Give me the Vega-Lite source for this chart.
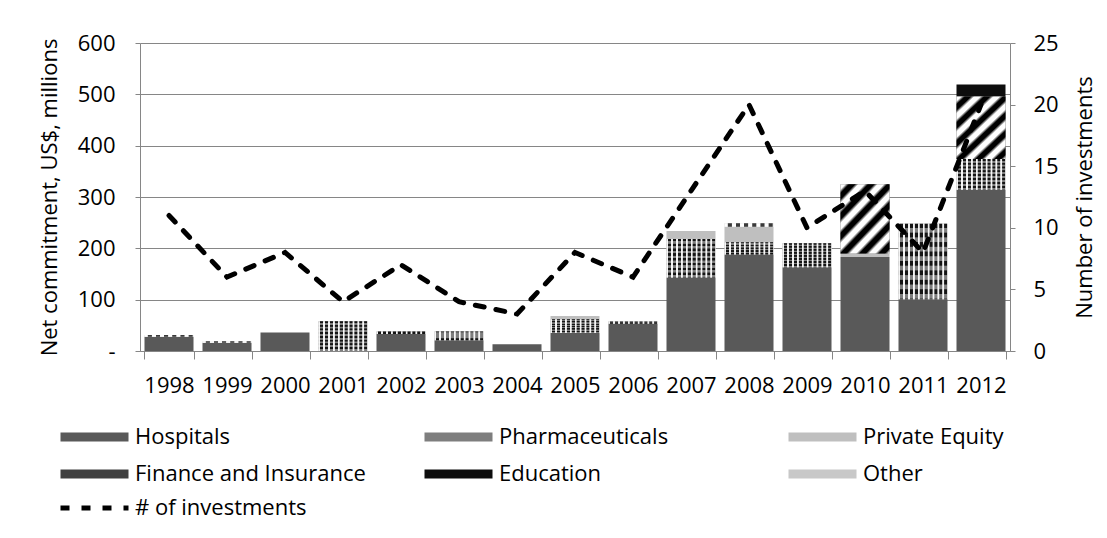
{
  "$schema": "https://vega.github.io/schema/vega-lite/v6.json",
  "width": 870,
  "height": 308,
  "autosize": {"type": "none"},
  "padding": {"left": 140, "top": 43, "right": 97, "bottom": 187},
  "background": "#ffffff",
  "config": {
    "view": {"stroke": null},
    "font": "Open Sans",
    "axis": {
      "domainColor": "#868686",
      "tickColor": "#868686",
      "gridColor": "#868686",
      "labelColor": "#000000",
      "titleColor": "#000000",
      "labelFont": "Open Sans",
      "titleFont": "Open Sans",
      "labelFontSize": 22,
      "titleFontSize": 22,
      "titleFontWeight": "normal"
    },
    "legend": {
      "padding": 0,
      "labelFont": "Open Sans",
      "labelFontSize": 22,
      "labelColor": "#000000",
      "labelLimit": 400
    }
  },
  "datasets": {
    "commitments": [
      {"year": "1998", "Hospitals": 28, "Pharmaceuticals": 0, "Private Equity": 0, "Finance and Insurance": 0, "Education": 0, "Other": 3, "investments": 11},
      {"year": "1999", "Hospitals": 16, "Pharmaceuticals": 0, "Private Equity": 0, "Finance and Insurance": 0, "Education": 0, "Other": 3, "investments": 6},
      {"year": "2000", "Hospitals": 36, "Pharmaceuticals": 0, "Private Equity": 0, "Finance and Insurance": 0, "Education": 0, "Other": 0, "investments": 8},
      {"year": "2001", "Hospitals": 0, "Pharmaceuticals": 58, "Private Equity": 0, "Finance and Insurance": 0, "Education": 0, "Other": 0, "investments": 4},
      {"year": "2002", "Hospitals": 33, "Pharmaceuticals": 5, "Private Equity": 0, "Finance and Insurance": 0, "Education": 0, "Other": 0, "investments": 7},
      {"year": "2003", "Hospitals": 21, "Pharmaceuticals": 17, "Private Equity": 0, "Finance and Insurance": 0, "Education": 0, "Other": 0, "investments": 4},
      {"year": "2004", "Hospitals": 13, "Pharmaceuticals": 0, "Private Equity": 0, "Finance and Insurance": 0, "Education": 0, "Other": 0, "investments": 3},
      {"year": "2005", "Hospitals": 35, "Pharmaceuticals": 27, "Private Equity": 6, "Finance and Insurance": 0, "Education": 0, "Other": 0, "investments": 8},
      {"year": "2006", "Hospitals": 53, "Pharmaceuticals": 5, "Private Equity": 0, "Finance and Insurance": 0, "Education": 0, "Other": 0, "investments": 6},
      {"year": "2007", "Hospitals": 143, "Pharmaceuticals": 75, "Private Equity": 16, "Finance and Insurance": 0, "Education": 0, "Other": 0, "investments": 13},
      {"year": "2008", "Hospitals": 188, "Pharmaceuticals": 24, "Private Equity": 30, "Finance and Insurance": 0, "Education": 0, "Other": 7, "investments": 20},
      {"year": "2009", "Hospitals": 163, "Pharmaceuticals": 47, "Private Equity": 0, "Finance and Insurance": 0, "Education": 0, "Other": 0, "investments": 10},
      {"year": "2010", "Hospitals": 183, "Pharmaceuticals": 0, "Private Equity": 7, "Finance and Insurance": 135, "Education": 0, "Other": 0, "investments": 13},
      {"year": "2011", "Hospitals": 101, "Pharmaceuticals": 147, "Private Equity": 0, "Finance and Insurance": 0, "Education": 0, "Other": 0, "investments": 8},
      {"year": "2012", "Hospitals": 314, "Pharmaceuticals": 60, "Private Equity": 0, "Finance and Insurance": 122, "Education": 23, "Other": 0, "investments": 20}
    ],
    "sectors": [
      {"sector": "Hospitals", "rank": 1},
      {"sector": "Pharmaceuticals", "rank": 2},
      {"sector": "Private Equity", "rank": 3},
      {"sector": "Finance and Insurance", "rank": 4},
      {"sector": "Education", "rank": 5},
      {"sector": "Other", "rank": 6}
    ]
  },
  "layer": [
    {
      "data": {"name": "commitments"},
      "transform": [
        {"fold": ["Hospitals", "Pharmaceuticals", "Private Equity", "Finance and Insurance", "Education", "Other"], "as": ["sector", "amount"]},
        {"lookup": "sector", "from": {"data": {"name": "sectors"}, "key": "sector", "fields": ["rank"]}},
        {"stack": "amount", "groupby": ["year"], "sort": [{"field": "rank", "order": "ascending"}], "as": ["v0", "v1"]},
        {"filter": "datum.amount > 0"}
      ],
      "layer": [
        {
          "mark": {"type": "bar"},
          "encoding": {
            "x": {
              "field": "year",
              "type": "ordinal",
              "scale": {"paddingInner": 0.155, "paddingOuter": 0.0775},
              "axis": {"title": null, "labelAngle": 0, "tickSize": 8, "tickBand": "extent", "labelPadding": 16}
            },
            "y": {
              "field": "v0",
              "type": "quantitative",
              "scale": {"domain": [0, 600]},
              "axis": {
                "orient": "left",
                "title": "Net commitment, US$, millions",
                "values": [0, 100, 200, 300, 400, 500, 600],
                "grid": true,
                "tickSize": 5,
                "labelPadding": 20,
                "titlePadding": 16,
                "labelExpr": "datum.value === 0 ? '-\u00a0\u00a0' : datum.label"
              }
            },
            "y2": {"field": "v1"},
            "color": {
              "field": "sector",
              "type": "nominal",
              "scale": {
                "domain": ["Hospitals", "Pharmaceuticals", "Private Equity", "Finance and Insurance", "Education", "Other"],
                "range": ["#595959", "#7e7e7e", "#bfbfbf", "#404040", "#0d0d0d", "#c8c8c8"]
              },
              "legend": {
                "orient": "none",
                "legendX": -56.5,
                "legendY": 383,
                "columns": 3,
                "direction": "horizontal",
                "gridAlign": "all",
                "title": null,
                "symbolType": "M-7.556,-1H7.556V1H-7.556Z",
                "symbolSize": 81,
                "symbolStrokeWidth": 0,
                "labelOffset": 29.5,
                "columnPadding": 57,
                "rowPadding": 15
              }
            }
          }
        },
        {
          "transform": [{"filter": "datum.sector === 'Pharmaceuticals'"}],
          "mark": {
            "type": "bar",
            "color": {"gradient": "linear", "x1": 0, "y1": 0, "x2": 1, "y2": 0, "stops": [
              {"offset": 0, "color": "#f0f0f0"}, {"offset": 0.025, "color": "#f0f0f0"}, {"offset": 0.04, "color": "#141414"}, {"offset": 0.09, "color": "#141414"},
              {"offset": 0.1, "color": "#f0f0f0"}, {"offset": 0.125, "color": "#f0f0f0"}, {"offset": 0.14, "color": "#141414"}, {"offset": 0.19, "color": "#141414"},
              {"offset": 0.2, "color": "#f0f0f0"}, {"offset": 0.225, "color": "#f0f0f0"}, {"offset": 0.24, "color": "#141414"}, {"offset": 0.29, "color": "#141414"},
              {"offset": 0.3, "color": "#f0f0f0"}, {"offset": 0.325, "color": "#f0f0f0"}, {"offset": 0.34, "color": "#141414"}, {"offset": 0.39, "color": "#141414"},
              {"offset": 0.4, "color": "#f0f0f0"}, {"offset": 0.425, "color": "#f0f0f0"}, {"offset": 0.44, "color": "#141414"}, {"offset": 0.49, "color": "#141414"},
              {"offset": 0.5, "color": "#f0f0f0"}, {"offset": 0.525, "color": "#f0f0f0"}, {"offset": 0.54, "color": "#141414"}, {"offset": 0.59, "color": "#141414"},
              {"offset": 0.6, "color": "#f0f0f0"}, {"offset": 0.625, "color": "#f0f0f0"}, {"offset": 0.64, "color": "#141414"}, {"offset": 0.69, "color": "#141414"},
              {"offset": 0.7, "color": "#f0f0f0"}, {"offset": 0.725, "color": "#f0f0f0"}, {"offset": 0.74, "color": "#141414"}, {"offset": 0.79, "color": "#141414"},
              {"offset": 0.8, "color": "#f0f0f0"}, {"offset": 0.825, "color": "#f0f0f0"}, {"offset": 0.84, "color": "#141414"}, {"offset": 0.89, "color": "#141414"},
              {"offset": 0.9, "color": "#f0f0f0"}, {"offset": 0.925, "color": "#f0f0f0"}, {"offset": 0.94, "color": "#141414"}, {"offset": 0.99, "color": "#141414"}, {"offset": 1, "color": "#f0f0f0"}
            ]}
          },
          "encoding": {
            "x": {"field": "year", "type": "ordinal"},
            "y": {"field": "v0", "type": "quantitative"},
            "y2": {"field": "v1"}
          }
        },
        {
          "transform": [{"filter": "datum.sector === 'Pharmaceuticals'"}],
          "mark": {
            "type": "bar",
            "color": {"gradient": "linear", "x1": 0, "y1": 0, "x2": 0, "y2": 1, "stops": [
              {"offset": 0, "color": "rgba(255,255,255,0)"}, {"offset": 0.05, "color": "rgba(255,255,255,0)"}, {"offset": 0.0625, "color": "rgba(255,255,255,0.45)"}, {"offset": 0.1125, "color": "rgba(255,255,255,0.45)"},
              {"offset": 0.125, "color": "rgba(255,255,255,0)"}, {"offset": 0.175, "color": "rgba(255,255,255,0)"}, {"offset": 0.1875, "color": "rgba(255,255,255,0.45)"}, {"offset": 0.2375, "color": "rgba(255,255,255,0.45)"},
              {"offset": 0.25, "color": "rgba(255,255,255,0)"}, {"offset": 0.3, "color": "rgba(255,255,255,0)"}, {"offset": 0.3125, "color": "rgba(255,255,255,0.45)"}, {"offset": 0.3625, "color": "rgba(255,255,255,0.45)"},
              {"offset": 0.375, "color": "rgba(255,255,255,0)"}, {"offset": 0.425, "color": "rgba(255,255,255,0)"}, {"offset": 0.4375, "color": "rgba(255,255,255,0.45)"}, {"offset": 0.4875, "color": "rgba(255,255,255,0.45)"},
              {"offset": 0.5, "color": "rgba(255,255,255,0)"}, {"offset": 0.55, "color": "rgba(255,255,255,0)"}, {"offset": 0.5625, "color": "rgba(255,255,255,0.45)"}, {"offset": 0.6125, "color": "rgba(255,255,255,0.45)"},
              {"offset": 0.625, "color": "rgba(255,255,255,0)"}, {"offset": 0.675, "color": "rgba(255,255,255,0)"}, {"offset": 0.6875, "color": "rgba(255,255,255,0.45)"}, {"offset": 0.7375, "color": "rgba(255,255,255,0.45)"},
              {"offset": 0.75, "color": "rgba(255,255,255,0)"}, {"offset": 0.8, "color": "rgba(255,255,255,0)"}, {"offset": 0.8125, "color": "rgba(255,255,255,0.45)"}, {"offset": 0.8625, "color": "rgba(255,255,255,0.45)"},
              {"offset": 0.875, "color": "rgba(255,255,255,0)"}, {"offset": 0.925, "color": "rgba(255,255,255,0)"}, {"offset": 0.9375, "color": "rgba(255,255,255,0.45)"}, {"offset": 0.9875, "color": "rgba(255,255,255,0.45)"},
              {"offset": 1, "color": "rgba(255,255,255,0)"}
            ]}
          },
          "encoding": {
            "x": {"field": "year", "type": "ordinal"},
            "y": {"field": "v0", "type": "quantitative"},
            "y2": {"field": "v1"}
          }
        },
        {
          "transform": [{"filter": "datum.sector === 'Finance and Insurance'"}],
          "mark": {
            "type": "bar",
            "color": {"gradient": "linear", "x1": 0, "y1": 0, "x2": 0.832, "y2": 1.124, "stops": [
              {"offset": 0, "color": "#ffffff"}, {"offset": 0.0417, "color": "#ffffff"}, {"offset": 0.075, "color": "#000000"}, {"offset": 0.125, "color": "#000000"}, {"offset": 0.1583, "color": "#ffffff"},
              {"offset": 0.2083, "color": "#ffffff"}, {"offset": 0.2417, "color": "#000000"}, {"offset": 0.2917, "color": "#000000"}, {"offset": 0.325, "color": "#ffffff"},
              {"offset": 0.375, "color": "#ffffff"}, {"offset": 0.4083, "color": "#000000"}, {"offset": 0.4583, "color": "#000000"}, {"offset": 0.4917, "color": "#ffffff"},
              {"offset": 0.5417, "color": "#ffffff"}, {"offset": 0.575, "color": "#000000"}, {"offset": 0.625, "color": "#000000"}, {"offset": 0.6583, "color": "#ffffff"},
              {"offset": 0.7083, "color": "#ffffff"}, {"offset": 0.7417, "color": "#000000"}, {"offset": 0.7917, "color": "#000000"}, {"offset": 0.825, "color": "#ffffff"},
              {"offset": 0.875, "color": "#ffffff"}, {"offset": 0.9083, "color": "#000000"}, {"offset": 0.9583, "color": "#000000"}, {"offset": 0.9917, "color": "#ffffff"}, {"offset": 1, "color": "#ffffff"}
            ]}
          },
          "encoding": {
            "x": {"field": "year", "type": "ordinal"},
            "y": {"field": "v0", "type": "quantitative"},
            "y2": {"field": "v1"}
          }
        },
        {
          "transform": [{"filter": "datum.sector === 'Other'"}],
          "mark": {
            "type": "bar",
            "color": {"gradient": "linear", "x1": 0, "y1": 0, "x2": 1, "y2": 0, "stops": [
              {"offset": 0, "color": "#ffffff"}, {"offset": 0.0583, "color": "#ffffff"}, {"offset": 0.075, "color": "#3a3a3a"}, {"offset": 0.1417, "color": "#3a3a3a"}, {"offset": 0.1583, "color": "#ffffff"},
              {"offset": 0.225, "color": "#ffffff"}, {"offset": 0.2417, "color": "#3a3a3a"}, {"offset": 0.3083, "color": "#3a3a3a"}, {"offset": 0.325, "color": "#ffffff"},
              {"offset": 0.3917, "color": "#ffffff"}, {"offset": 0.4083, "color": "#3a3a3a"}, {"offset": 0.475, "color": "#3a3a3a"}, {"offset": 0.4917, "color": "#ffffff"},
              {"offset": 0.5583, "color": "#ffffff"}, {"offset": 0.575, "color": "#3a3a3a"}, {"offset": 0.6417, "color": "#3a3a3a"}, {"offset": 0.6583, "color": "#ffffff"},
              {"offset": 0.725, "color": "#ffffff"}, {"offset": 0.7417, "color": "#3a3a3a"}, {"offset": 0.8083, "color": "#3a3a3a"}, {"offset": 0.825, "color": "#ffffff"},
              {"offset": 0.8917, "color": "#ffffff"}, {"offset": 0.9083, "color": "#3a3a3a"}, {"offset": 0.975, "color": "#3a3a3a"}, {"offset": 0.9917, "color": "#ffffff"}, {"offset": 1, "color": "#ffffff"}
            ]}
          },
          "encoding": {
            "x": {"field": "year", "type": "ordinal"},
            "y": {"field": "v0", "type": "quantitative"},
            "y2": {"field": "v1"}
          }
        }
      ]
    },
    {
      "data": {"name": "commitments"},
      "mark": {"type": "line", "stroke": "#000000", "strokeWidth": 5, "strokeCap": "round"},
      "encoding": {
        "x": {"field": "year", "type": "ordinal"},
        "y": {
          "field": "investments",
          "type": "quantitative",
          "scale": {"domain": [0, 25]},
          "axis": {
            "orient": "right",
            "title": "Number of investments",
            "values": [0, 5, 10, 15, 20, 25],
            "grid": false,
            "tickSize": 5,
            "labelPadding": 18,
            "titlePadding": 38,
            "titleAngle": 270
          }
        },
        "strokeDash": {
          "datum": "# of investments",
          "type": "nominal",
          "scale": {"domain": ["# of investments"], "range": [[9, 12]]},
          "legend": {
            "orient": "none",
            "legendX": -56.5,
            "legendY": 454,
            "title": null,
            "symbolType": "M-7.556,0H7.556",
            "symbolSize": 81,
            "symbolStrokeWidth": 5,
            "symbolStrokeColor": "#000000",
            "labelOffset": 29.5
          }
        }
      }
    }
  ],
  "resolve": {"scale": {"y": "independent"}, "axis": {"y": "independent"}}
}
